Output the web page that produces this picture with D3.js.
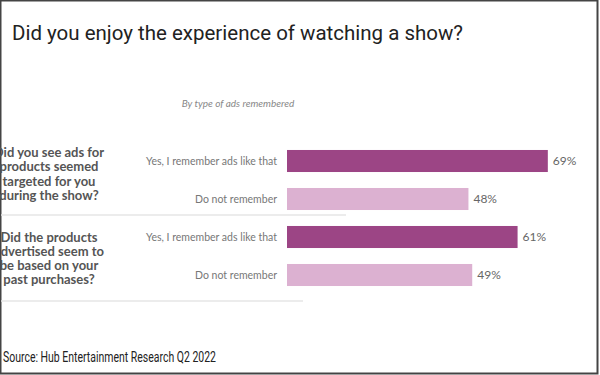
<!DOCTYPE html>
<html>
<head>
<meta charset="utf-8">
<script src="https://cdn.jsdelivr.net/npm/d3@7"></script>
<style>
  body { margin: 0; background: #fff; }
  svg { display: block; }
</style>
</head>
<body>
<svg id="chart"></svg>
<script>
'use strict';

const questions = [
  ['Did you see ads for', 'products seemed', 'targeted for you', 'during the show?'],
  ['Did the products', 'advertised seem to', 'be based on your', 'past purchases?']
];
const answers = ['Yes, I remember ads like that', 'Do not remember'];
const values = [[69, 48], [61, 49]];

const WIDTH = 600;
const HEIGHT = 375;
const DARK = '#9c4585';
const LIGHT = '#dcb1d1';

const svg = d3.select('#chart')
  .attr('width', WIDTH)
  .attr('height', HEIGHT);

svg.append('rect')
  .attr('x', 0.5).attr('y', 0.5)
  .attr('width', WIDTH - 3).attr('height', HEIGHT - 2)
  .attr('fill', '#fff')
  .attr('stroke', '#444')
  .attr('stroke-width', 2);

// the source uses a condensed face, so squeeze Roboto to the same width
svg.append('text')
  .attr('x', 12)
  .attr('y', 40)
  .attr('font-family', 'Roboto')
  .attr('font-size', 21)
  .attr('fill', '#222')
  .attr('textLength', 451)
  .attr('lengthAdjust', 'spacingAndGlyphs')
  .text('Did you enjoy the experience of watching a show?');

svg.append('text')
  .attr('x', 238)
  .attr('y', 107)
  .attr('text-anchor', 'middle')
  .attr('font-family', 'Lato')
  .attr('font-style', 'italic')
  .attr('font-size', 10)
  .attr('fill', '#888')
  .text('By type of ads remembered');

// flatten into rows
const rows = [];
questions.forEach((q, qi) => {
  answers.forEach((a, ai) => {
    rows.push({ key: qi + '-' + ai, group: qi, answer: a, idx: ai, value: values[qi][ai] });
  });
});

const x = d3.scaleLinear().domain([0, 100]).range([287, 665]);
const y = d3.scaleBand()
  .domain(rows.map(d => d.key))
  .range([142, 294])
  .paddingInner(0.42)
  .paddingOuter(0.21);

const chart = svg.append('g');

chart.selectAll('.bar')
  .data(rows)
  .enter()
  .append('rect')
  .attr('class', 'bar')
  .attr('x', x(0))
  .attr('y', d => y(d.key))
  .attr('width', d => x(d.value) - x(0))
  .attr('height', y.bandwidth())
  .attr('fill', d => d.idx === 0 ? DARK : LIGHT);

chart.selectAll('.val')
  .data(rows)
  .enter()
  .append('text')
  .attr('class', 'val')
  .attr('x', d => x(d.value) + 5)
  .attr('y', d => y(d.key) + y.bandwidth() / 2 + 4)
  .attr('font-family', 'Lato')
  .attr('font-size', 12)
  .attr('fill', '#666')
  .text(d => d.value + '%');

chart.selectAll('.cat')
  .data(rows)
  .enter()
  .append('text')
  .attr('class', 'cat')
  .attr('x', x(0) - 10)
  .attr('y', d => y(d.key) + y.bandwidth() / 2 + 4)
  .attr('text-anchor', 'end')
  .attr('font-family', 'Lato')
  .attr('font-size', 10.5)
  .attr('fill', '#777')
  .text(d => d.answer);

// group separators
const step = y.step();
const groupBottom = g => y(g + '-1') + y.bandwidth() + step * 0.21 - 3;

svg.selectAll('.sep')
  .data([
    { y: groupBottom(0), x2: 346 },
    { y: groupBottom(1) + 10, x2: 303 }
  ])
  .enter()
  .append('line')
  .attr('class', 'sep')
  .attr('x1', 1).attr('x2', d => d.x2)
  .attr('y1', d => d.y).attr('y2', d => d.y)
  .attr('stroke', '#e6e6e6')
  .attr('stroke-width', 1.5);

// question labels, roughly centred on each group (cut off at the left edge as in the source)
const labelShift = [-6.5, 2];
questions.forEach((lines, qi) => {
  const mid = (y(qi + '-0') + y(qi + '-1') + y.bandwidth()) / 2 + labelShift[qi];
  const lineH = 14.3;
  const t = svg.append('text')
    .attr('text-anchor', 'middle')
    .attr('font-family', 'Lato')
    .attr('font-weight', 'bold')
    .attr('font-size', 13)
    .attr('fill', '#555');
  lines.forEach((ln, i) => {
    t.append('tspan')
      .attr('x', 49)
      .attr('y', mid - lineH * 1.5 + i * lineH + 5)
      .text(ln);
  });
});

svg.append('text')
  .attr('x', 3)
  .attr('y', 362)
  .attr('font-family', 'Roboto')
  .attr('font-size', 14)
  .attr('fill', '#222')
  .attr('textLength', 213)
  .attr('lengthAdjust', 'spacingAndGlyphs')
  .text('Source: Hub Entertainment Research Q2 2022');
</script>
</body>
</html>
